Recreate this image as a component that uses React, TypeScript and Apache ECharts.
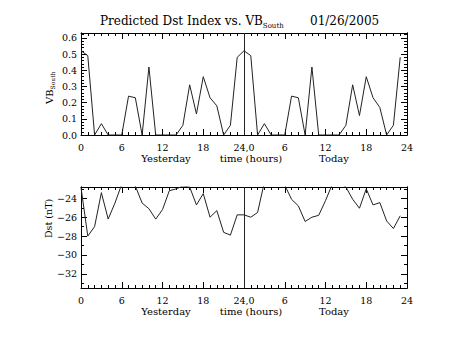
import React, { useEffect, useRef } from "react";
import * as echarts from "echarts";

const xTickLabels = ["0", "6", "12", "18", "24,0", "6", "12", "18", "24"];
const vbSouth = [
  0.52, 0.49, 0, 0.07, 0, 0, 0, 0.24, 0.23, 0, 0.42, 0, 0, 0, 0, 0.06, 0.31, 0.13, 0.36, 0.23, 0.18, 0, 0.06, 0.48,
  0.52, 0.49, 0, 0.07, 0, 0, 0, 0.24, 0.23, 0, 0.42, 0, 0, 0, 0, 0.06, 0.31, 0.12, 0.36, 0.23, 0.17, 0, 0.06, 0.48,
];
const dst = [
  -22.85, -28.0, -27.0, -23.4, -26.2, -24.5, -22.5, -22.3, -22.7, -24.5, -25.1, -26.2, -25.2, -23.2, -23.0, -22.7,
  -22.8, -24.7, -23.5, -26.0, -25.3, -27.6, -27.9, -25.75,
  -25.75, -26.0, -25.5, -22.3, -22.0, -22.2, -22.6, -24.1, -24.8, -26.45, -26.0, -25.8, -24.25, -22.5, -22.3, -22.8,
  -24.1, -25.05, -23.0, -24.7, -24.45, -26.4, -27.2, -25.85,
];
const vbTicks = [0, 0.1, 0.2, 0.3, 0.4, 0.5, 0.6];
const dstTicks = [-32, -30, -28, -26, -24];
const dstMinor = [-33, -31, -29, -27, -25, -23];

const FONT = "DejaVu Serif";
const AX = "#000";
const OFF = 8; // body margin

function xAxes(gridIndex: number) {
  const common = {
    gridIndex,
    type: "value",
    min: 0,
    max: 48,
    interval: 6,
    axisLine: { show: true, onZero: false, lineStyle: { color: AX, width: 1 } },
    axisTick: { show: true, inside: true, length: 6, lineStyle: { color: AX } },
    minorTick: { show: true, splitNumber: 6, length: 3, lineStyle: { color: AX } },
    splitLine: { show: false },
  };
  return [
    {
      ...common,
      position: "bottom",
      axisLabel: {
        show: true,
        margin: 7,
        color: "#000",
        fontFamily: FONT,
        fontSize: 9.5,
        formatter: (v: number) => xTickLabels[Math.round(v / 6)] ?? "",
      },
    },
    { ...common, position: "top", axisLabel: { show: false } },
  ];
}

export default function App() {
  const ref = useRef<HTMLDivElement>(null);
  useEffect(() => {
    if (!ref.current) return;
    const chart = echarts.init(ref.current, undefined, { renderer: "svg" });
    const vbMinor: number[] = [];
    for (let k = 0; k <= 31; k++) vbMinor.push(+(k * 0.02).toFixed(2));

    const yCommon = (gridIndex: number, min: number, max: number) => ({
      gridIndex,
      type: "value",
      min,
      max,
      axisLine: { show: true, onZero: false, lineStyle: { color: AX, width: 1 } },
      splitLine: { show: false },
    });

    const option: any = {
      animation: false,
      backgroundColor: "#fff",
      grid: [
        { left: 81 - OFF, top: 33 - OFF, width: 326, height: 102 },
        { left: 81 - OFF, top: 187 - OFF, width: 326, height: 101 },
      ],
      xAxis: [...xAxes(0), ...xAxes(1)],
      yAxis: [
        {
          ...yCommon(0, 0, 0.63),
          position: "left",
          axisTick: { show: true, inside: true, length: 6, customValues: vbTicks, lineStyle: { color: AX } },
          axisLabel: {
            show: true,
            customValues: vbTicks,
            margin: 4,
            color: "#000",
            fontFamily: FONT,
            fontSize: 9.5,
            formatter: (v: number) => v.toFixed(1),
          },
        },
        {
          ...yCommon(0, 0, 0.63),
          position: "left",
          axisTick: { show: true, inside: true, length: 3, customValues: vbMinor, lineStyle: { color: AX } },
          axisLabel: { show: false },
        },
        {
          ...yCommon(0, 0, 0.63),
          position: "right",
          axisTick: { show: true, inside: true, length: 6, customValues: vbTicks, lineStyle: { color: AX } },
          axisLabel: { show: false },
        },
        {
          ...yCommon(0, 0, 0.63),
          position: "right",
          axisTick: { show: true, inside: true, length: 3, customValues: vbMinor, lineStyle: { color: AX } },
          axisLabel: { show: false },
        },
        {
          ...yCommon(1, -33.5, -22.8),
          position: "left",
          axisTick: { show: true, inside: true, length: 6, customValues: dstTicks, lineStyle: { color: AX } },
          axisLabel: {
            show: true,
            customValues: dstTicks,
            margin: 4,
            color: "#000",
            fontFamily: FONT,
            fontSize: 9.5,
            formatter: (v: number) => (v < 0 ? "\u2212" + Math.abs(v) : String(v)),
          },
        },
        {
          ...yCommon(1, -33.5, -22.8),
          position: "left",
          axisTick: { show: true, inside: true, length: 3, customValues: dstMinor, lineStyle: { color: AX } },
          axisLabel: { show: false },
        },
        {
          ...yCommon(1, -33.5, -22.8),
          position: "right",
          axisTick: { show: true, inside: true, length: 6, customValues: dstTicks, lineStyle: { color: AX } },
          axisLabel: { show: false },
        },
        {
          ...yCommon(1, -33.5, -22.8),
          position: "right",
          axisTick: { show: true, inside: true, length: 3, customValues: dstMinor, lineStyle: { color: AX } },
          axisLabel: { show: false },
        },
      ],
      series: [
        {
          type: "line",
          xAxisIndex: 0,
          yAxisIndex: 0,
          data: vbSouth.map((v, i) => [i, v]),
          showSymbol: false,
          clip: true,
          lineStyle: { color: "#222", width: 1 },
          markLine: {
            silent: true,
            symbol: ["none", "none"],
            label: { show: false },
            lineStyle: { color: "#222", width: 1, type: "solid" },
            data: [{ xAxis: 24 }],
          },
        },
        {
          type: "line",
          xAxisIndex: 2,
          yAxisIndex: 4,
          data: dst.map((v, i) => [i, v]),
          showSymbol: false,
          clip: true,
          lineStyle: { color: "#222", width: 1 },
          markLine: {
            silent: true,
            symbol: ["none", "none"],
            label: { show: false },
            lineStyle: { color: "#222", width: 1, type: "solid" },
            data: [{ xAxis: 24 }],
          },
        },
      ],
      graphic: [
        {
          type: "text",
          left: 100 - OFF,
          top: 15 - OFF,
          style: {
            text: "Predicted Dst Index vs. VB{sub|South}",
            fontFamily: FONT,
            fontSize: 12,
            fill: "#000",
            rich: { sub: { fontSize: 7, fontFamily: FONT, fill: "#000", padding: [9, 0, 0, 0] } },
          },
        },
        {
          type: "text",
          left: 310 - OFF,
          top: 15 - OFF,
          style: { text: "01/26/2005", fontFamily: FONT, fontSize: 12, fill: "#000" },
        },
        {
          type: "text",
          x: 49 - OFF,
          y: 104 - OFF,
          rotation: Math.PI / 2,
          style: {
            text: "VB{sub|South}",
            fontFamily: FONT,
            fontSize: 10,
            fill: "#000",
            textVerticalAlign: "middle",
            rich: { sub: { fontSize: 6, fontFamily: FONT, fill: "#000", padding: [6, 0, 0, 0] } },
          },
        },
        {
          type: "text",
          x: 48 - OFF,
          y: 238 - OFF,
          rotation: Math.PI / 2,
          style: { text: "Dst (nT)", fontFamily: FONT, fontSize: 9.5, fill: "#000", textVerticalAlign: "middle" },
        },
        ...[
          [166, 158, "Yesterday"],
          [251, 158, "time (hours)"],
          [334, 158, "Today"],
          [166, 311, "Yesterday"],
          [251, 311, "time (hours)"],
          [334, 311, "Today"],
        ].map(([x, y, t]) => ({
          type: "text",
          x: (x as number) - OFF,
          y: (y as number) - OFF,
          style: { text: t, fontFamily: FONT, fontSize: 10, fill: "#000", textAlign: "center", textVerticalAlign: "middle" },
        })),
      ],
    };
    chart.setOption(option);
    return () => chart.dispose();
  }, []);
  return <div ref={ref} style={{ width: 453 - OFF, height: 340 - OFF }} />;
}
